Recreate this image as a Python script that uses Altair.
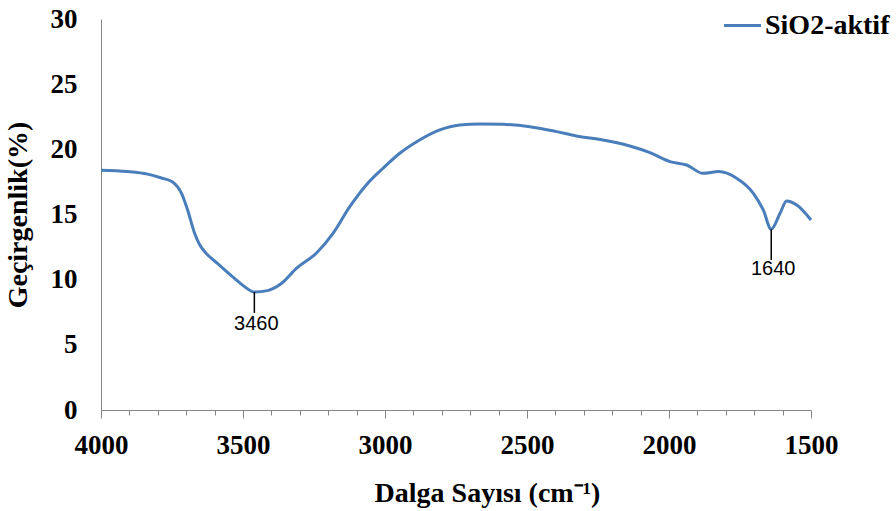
import altair as alt
import pandas as pd

# FTIR spectrum of activated SiO2: wavenumber (cm-1) vs transmittance (%)
wavenumber = [4000, 3907, 3836, 3787, 3748, 3716, 3695, 3671, 3653, 3635,
              3590, 3530, 3494, 3460, 3413, 3364, 3312, 3242, 3183, 3124,
              3066, 3007, 2948, 2878, 2807, 2737, 2666, 2585, 2490, 2396,
              2326, 2233, 2138, 2067, 1997, 1938, 1880, 1825, 1762, 1703,
              1668, 1640, 1609, 1586, 1550, 1500]
transmittance = [18.4, 18.3, 18.1, 17.8, 17.5, 16.6, 15.35, 13.6, 12.7, 12.15,
                 11.25, 10.1, 9.46, 9.05, 9.16, 9.72, 10.87, 12.03, 13.56, 15.6,
                 17.27, 18.55, 19.7, 20.72, 21.49, 21.87, 21.95, 21.92, 21.74, 21.36,
                 21.03, 20.72, 20.26, 19.75, 19.06, 18.8, 18.16, 18.29, 17.78, 16.63,
                 15.35, 13.87, 15.09, 16.04, 15.73, 14.58]
series_name = "SiO2-aktif"

# Peak annotations
peak_labels = ["3460", "1640"]
peak_wn = [3460, 1640]
peak_top = [9.05, 13.87]
peak_bottom = [7.45, 11.5]
peak_text_y = [6.6, 10.8]

spectrum = pd.DataFrame({"wn": wavenumber, "T": transmittance, "series": series_name})
peaks = pd.DataFrame({"label": peak_labels, "wn": peak_wn, "top": peak_top,
                      "bottom": peak_bottom, "ty": peak_text_y})

serif = "Liberation Serif"
axis_grey = "#868686"

x_scale = alt.Scale(domain=[4000, 1500], nice=False, zero=False)
y_scale = alt.Scale(domain=[0, 30], nice=False)

x_title = "Dalga Sayısı (cm⁻¹)"
y_title = "Geçirgenlik(%)"

x_axis = alt.Axis(values=list(range(1500, 4001, 100)), format="d",
                  labelExpr="datum.value % 500 === 0 ? datum.label : ''",
                  labelOverlap=False,
                  tickSize={"condition": {"test": "datum.value % 500 === 0", "value": 8}, "value": 5},
                  labelFont=serif, labelFontWeight="bold", labelColor="black",
                  labelFontSize=27, labelPadding=14, labelFlush=False,
                  titleFont=serif, titleFontWeight="bold", titleColor="black",
                  titleFontSize=28, titlePadding=21, titleX=386)
y_axis = alt.Axis(values=[0, 5, 10, 15, 20, 25, 30], ticks=False,
                  labelFont=serif, labelFontWeight="bold", labelColor="black",
                  labelFontSize=27, labelPadding=24,
                  titleFont=serif, titleFontWeight="bold", titleColor="black",
                  titleFontSize=28, titlePadding=18)

line = alt.Chart(spectrum).mark_line(strokeWidth=3, interpolate="monotone").encode(
    x=alt.X("wn:Q", scale=x_scale, title=x_title, axis=x_axis),
    y=alt.Y("T:Q", scale=y_scale, title=y_title, axis=y_axis),
    color=alt.Color("series:N",
                    scale=alt.Scale(domain=[series_name], range=["#4a7ebb"]),
                    legend=alt.Legend(title=None, orient="none", legendX=621, legendY=-14,
                                      symbolType="stroke", symbolSize=1370,
                                      symbolStrokeWidth=3, labelFont=serif,
                                      labelFontWeight="bold", labelColor="black",
                                      labelFontSize=28, labelOffset=2)),
)

rules = alt.Chart(peaks).mark_rule(color="black", strokeWidth=1.5).encode(
    x=alt.X("wn:Q", scale=x_scale, title=x_title, axis=x_axis),
    y=alt.Y("top:Q", scale=y_scale, title=y_title, axis=y_axis),
    y2="bottom:Q")

labels = alt.Chart(peaks).mark_text(font="Liberation Sans", fontSize=20, color="black",
                                    baseline="middle", align="center", dx=2).encode(
    x=alt.X("wn:Q", scale=x_scale, title=x_title, axis=x_axis),
    y=alt.Y("ty:Q", scale=y_scale, title=y_title, axis=y_axis),
    text="label:N")

chart = alt.layer(line, rules, labels).properties(
    width=710, height=391,
    padding={"left": 101, "top": 19, "right": 85, "bottom": 101},
    autosize=alt.AutoSizeParams(type="none"),
    background="white",
).configure_view(
    stroke=None
).configure_axis(
    domainColor=axis_grey, tickColor=axis_grey, grid=False,
)

chart.save("out.html", embed_options={"renderer": "svg", "actions": False})
